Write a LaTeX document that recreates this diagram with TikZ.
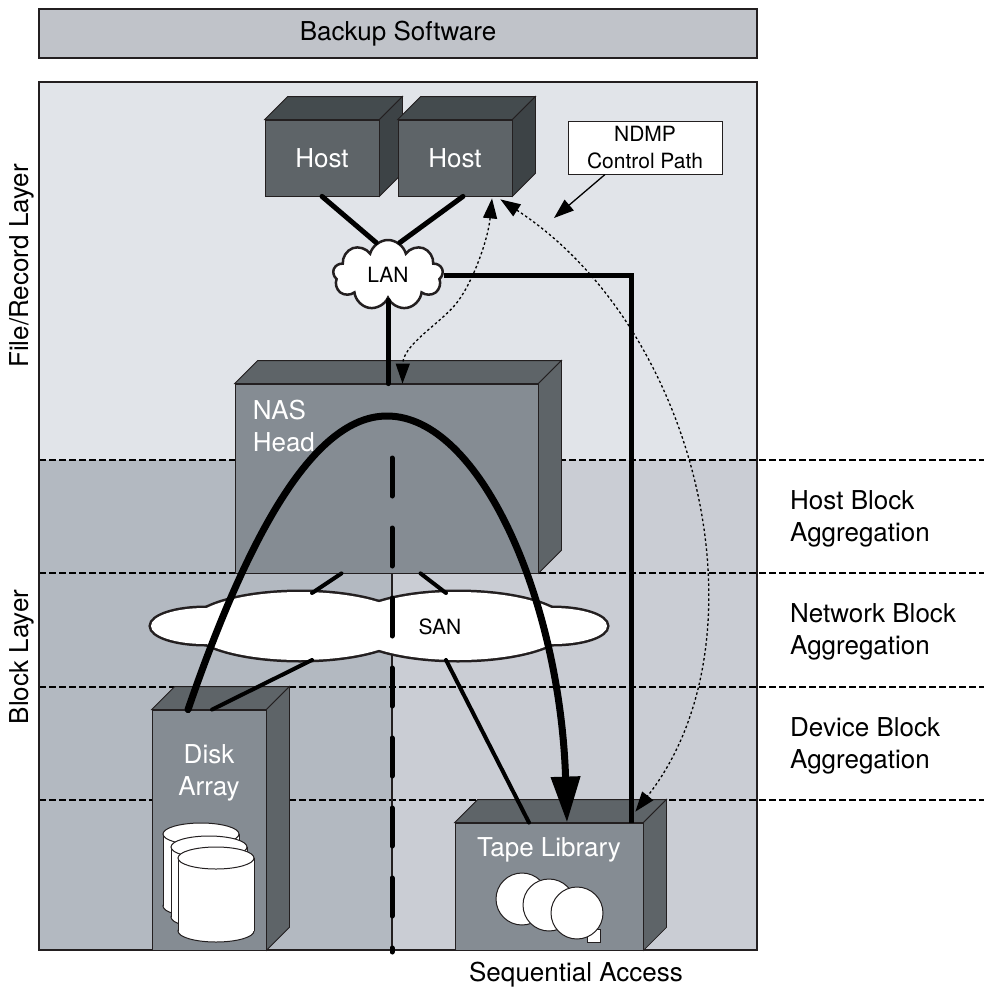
\documentclass[tikz,border=0pt]{standalone}
\usepackage{fontspec}
\setmainfont{TeX Gyre Heros}
\usepackage{tikz}
\usetikzlibrary{arrows.meta,positioning,shapes.geometric,shapes.symbols}
\definecolor{recordbg}{RGB}{225,228,233}
\definecolor{blockbgl}{RGB}{179,185,193}
\definecolor{blockbgr}{RGB}{202,205,212}
\definecolor{swgray}{RGB}{192,195,201}
\definecolor{devfront}{RGB}{133,140,147}
\definecolor{devdark}{RGB}{94,100,104}
\definecolor{hostfront}{RGB}{94,100,104}
\definecolor{hosttop}{RGB}{68,75,78}
\definecolor{hostside}{RGB}{61,67,70}
\definecolor{edge}{RGB}{35,31,32}

% top and right faces behind a front box
\newcommand{\boxdepth}[3]{%
  \filldraw[face,fill=#2] (#1.north west) -- ([shift={(23,-23)}]#1.north west)
    -- ([shift={(23,-23)}]#1.north east) -- (#1.north east) -- cycle;
  \filldraw[face,fill=#3] (#1.north east) -- ([shift={(23,-23)}]#1.north east)
    -- ([shift={(23,-23)}]#1.south east) -- (#1.south east) -- cycle;
}

\begin{document}
\begin{tikzpicture}[x=1pt,y=-1pt,
  txt/.style={font=\fontsize{26}{32}\selectfont,inner sep=0pt},
  small/.style={font=\fontsize{21}{27}\selectfont,inner sep=0pt},
  face/.style={draw=edge,line width=0.8pt},
  front/.style={face,rectangle,inner sep=0pt},
  host/.style={front,fill=hostfront,minimum width=114pt,minimum height=76pt,text=white,txt},
  device/.style={front,fill=devfront},
  devlabel/.style={txt,text=white},
  reel/.style={draw=edge,line width=1pt,fill=white},
  layerline/.style={line width=2.6pt,dash pattern=on 6.5pt off 3.5pt},
  axisline/.style={line width=5pt,line cap=round,dash pattern=on 38pt off 32pt},
  link/.style={line width=5pt,line cap=round},
  flow/.style={line width=7pt,line cap=round,-{Triangle[length=46pt,width=28pt]}},
  ctrl/.style={line width=1.3pt,dash pattern=on 2.5pt off 2.5pt,{Triangle[length=20pt,width=14pt]}-{Triangle[length=20pt,width=14pt]}},
  note/.style={line width=1.3pt,-{Triangle[length=20pt,width=14pt]}}
]
\useasboundingbox (0,0) rectangle (984,994);

% layers
\fill[recordbg] (39,82) rectangle (757,460);
\fill[blockbgl] (39,460) rectangle (392,950);
\fill[blockbgr] (392,460) rectangle (757,950);
\foreach \y in {460,573,687,800}
  \draw[layerline] (39,\y) -- (984,\y);
\draw[edge,line width=1.2pt] (392,460) -- (392,950);
\draw[edge,line width=1.6pt] (39,82) rectangle (757,950);

\node[txt,draw=edge,line width=1.6pt,fill=swgray,minimum width=718pt,minimum height=49pt] (backup) at (398,33.5) {Backup Software};
\node[txt,rotate=90] (filelayer) at (22,266) {File/Record Layer};
\node[txt,rotate=90] (blocklayer) at (22,657) {Block Layer};
\node[txt,align=left,anchor=west] (hostagg) at (790,519) {Host Block\\Aggregation};
\node[txt,align=left,anchor=west] (netagg) at (790,632) {Network Block\\Aggregation};
\node[txt,align=left,anchor=west] (devagg) at (790,746) {Device Block\\Aggregation};
\node[txt] (seq) at (576,975) {Sequential Access};

% NAS head
\node[device,minimum width=303pt,minimum height=189pt] (nas) at (386.5,478.5) {};
\boxdepth{nas}{devdark}{devdark}
\node[devlabel,align=left,below right=16pt and 18pt of nas.north west] (naslabel) {NAS\\Head};

% SAN cloud
\foreach \sx/\rx/\ry in {205/54/18,553/54/18,300/110/34,458/110/34}
  \draw[edge,line width=5pt] (\sx,626) ellipse[x radius=\rx,y radius=\ry];
\foreach \sx/\rx/\ry in {205/54/18,553/54/18,300/110/34,458/110/34}
  \fill[white] (\sx,626) ellipse[x radius=\rx,y radius=\ry];
\node[small] (san) at (440,627) {SAN};
\coordinate (san in1) at (312,593);
\coordinate (san in2) at (446,593);
\coordinate (san out1) at (312,660);
\coordinate (san out2) at (446,660);

% hosts and LAN
\node[host] (host1) at (322,158) {Host};
\boxdepth{host1}{hosttop}{hostside}
\node[host] (host2) at (455,158) {Host};
\boxdepth{host2}{hosttop}{hostside}
\node[cloud,cloud puffs=9,aspect=1.6,draw=edge,line width=2.5pt,fill=white,minimum width=110pt,minimum height=70pt,inner sep=0pt,small] (lan) at (388,275) {LAN};

% disk array
\node[device,minimum width=114pt,minimum height=240pt] (disk) at (209,830) {};
\boxdepth{disk}{devdark}{devdark}
\node[devlabel,align=center,below=35pt of disk.north] (disklabel) {Disk\\Array};
\foreach \cx/\yt/\yb in {201/834/906,209/847/917,216/858/931} {
  \filldraw[reel] (\cx,\yb) ellipse[x radius=38,y radius=11];
  \fill[white] (\cx-38,\yt) rectangle (\cx+38,\yb);
  \draw[edge,line width=1pt] (\cx-38,\yt) -- (\cx-38,\yb) (\cx+38,\yt) -- (\cx+38,\yb);
  \filldraw[reel] (\cx,\yt) ellipse[x radius=38,y radius=11];
}

% tape library
\node[device,minimum width=188pt,minimum height=127pt] (tape) at (549,886.5) {};
\boxdepth{tape}{devdark}{devdark}
\node[devlabel,below=15pt of tape.north] (tapelabel) {Tape Library};
\filldraw[reel] (587,929) rectangle (600,942);
\foreach \cx/\cy in {522/899,549/905,577/913}
  \filldraw[reel] (\cx,\cy) circle[radius=26];

% NDMP note
\node[small,align=center,draw=edge,line width=1pt,fill=white,minimum width=154pt,minimum height=53pt] (ndmp) at (645,147.5) {NDMP\\Control Path};
\coordinate (ndmp tip) at (554,218);
\draw[note] ([xshift=-40pt]ndmp.south) -- (ndmp tip);

% data connections
\draw[link] (host1.south) -- (lan.110);
\draw[link] ([xshift=8pt]host2.south) -- (lan.70);
\draw[link] (lan.south) -- (lan.south |- nas.north);
\draw[link,line cap=butt] (lan.east) -| ([xshift=-12pt]tape.north east);
\draw[link,line width=4pt] ([xshift=-45pt]nas.south) -- (san in1);
\draw[link,line width=4pt] ([xshift=34pt]nas.south) -- (san in2);
\draw[link,line width=4pt] (san out1) -- ([xshift=3pt]disk.north);
\draw[link,line width=4pt] (san out2) -- ([xshift=-20pt]tape.north);

% backup data path through the NAS head
\coordinate (apex) at (387,416);
\draw[flow] ([xshift=-21pt]disk.north) .. controls (255,515) and (320,416) .. (apex)
  .. controls (480,416) and (560,600) .. ([xshift=18pt]tape.north);
\draw[axisline] (392,458) -- (392,952);

% control paths
\coordinate (ctrl bend) at (455,305);
\draw[ctrl] ([xshift=37pt,yshift=-2pt]host2.south) .. controls (488,240) and (472,285) .. (ctrl bend)
  .. controls (438,325) and (403,345) .. ([xshift=16pt]nas.north);
\draw[ctrl] ([xshift=-12pt,yshift=-3pt]host2.south east) .. controls (700,330) and (770,640) .. ([xshift=-8pt,yshift=11pt]tape.north east);
\end{tikzpicture}
\end{document}
